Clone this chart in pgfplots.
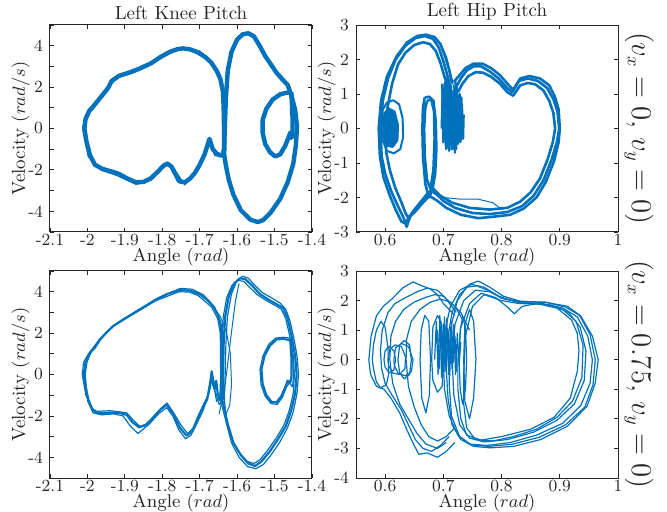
\documentclass[border=0pt]{standalone}
\usepackage{pgfplots}
\pgfplotsset{compat=1.18}
\definecolor{mblue}{RGB}{0,114,189}
\definecolor{axgray}{RGB}{38,38,38}
\pgfplotsset{
  every axis/.append style={
    scale only axis, width=131pt, height=103.5pt,
    tick align=inside,
    axis line style={draw=axgray, line width=0.5pt},
    every tick/.style={axgray, line width=0.4pt},
    major tick length=2.2pt, minor tick length=2.2pt,
    ticklabel style={font=\fontsize{8.5}{9}\selectfont, text=axgray},
    xticklabel style={anchor=base, yshift=-6.8pt, inner sep=1pt},
    label style={font=\fontsize{9.5}{10}\selectfont, text=axgray},
    title style={font=\fontsize{9.5}{10}\selectfont, text=axgray, yshift=-7pt},
    xlabel style={at={(axis description cs:0.5,0)}, anchor=base, yshift=-14.7pt, inner sep=1pt, font=\fontsize{9.2}{10}\selectfont},
    ylabel style={yshift=-7.5pt},
    xtick pos=both, ytick pos=both,
  },
  knee/.style={xmin=-2.1, xmax=-1.4, ymin=-5, ymax=5,
    xtick={-2.1,-2,-1.9,-1.8,-1.7,-1.6,-1.5,-1.4},
    xticklabels={-2.1,-2,-1.9,-1.8,-1.7,-1.6,-1.5,-1.4},
    ytick={-4,-2,0,2,4}, yticklabels={-4,-2,0,2,4},
    minor ytick={-5,-3,-1,1,3,5},
    xlabel={Angle $(rad)$}, ylabel={Velocity $(rad/s)$}},
  hip/.style={xmin=0.55, xmax=1,
    xtick={0.6,0.7,0.8,0.9,1}, xticklabels={0.6,0.7,0.8,0.9,1},
    xlabel={Angle $(rad)$}, ylabel={Velocity $(rad/s)$}},
  tr/.style={mblue, line join=round, no markers},
}
\begin{document}
\begin{tikzpicture}
\path[use as bounding box] (0,0) rectangle (333.5pt,-256pt);
% ---------------- Top left ----------------
\begin{axis}[knee, at={(25pt,-116pt)}, anchor=south west, title={Left Knee Pitch}]
\addplot[tr, line width=2.2pt] coordinates {
(-2.008,0)(-2.005,0.45)(-1.995,0.85)(-1.985,1.05)(-1.965,1.5)(-1.945,1.95)(-1.935,2.3)(-1.915,2.55)(-1.885,2.72)(-1.86,2.9)(-1.83,3.15)(-1.805,3.45)(-1.78,3.7)(-1.76,3.83)(-1.745,3.87)(-1.725,3.82)(-1.705,3.68)(-1.685,3.45)(-1.67,3.2)(-1.655,2.8)(-1.645,2.4)(-1.638,1.8)(-1.636,1.0)(-1.635,0.0)(-1.635,-1.0)(-1.638,-1.25)(-1.645,-1.3)(-1.655,-1.2)(-1.665,-1.0)(-1.674,-0.5)(-1.679,-0.8)(-1.687,-1.25)(-1.70,-1.75)(-1.713,-2.15)(-1.726,-2.42)(-1.74,-2.6)(-1.755,-2.55)(-1.765,-2.2)(-1.775,-1.85)(-1.786,-1.7)(-1.797,-1.8)(-1.81,-2.05)(-1.83,-2.4)(-1.85,-2.58)(-1.87,-2.6)(-1.895,-2.4)(-1.915,-2.2)(-1.935,-2.08)(-1.96,-1.95)(-1.98,-1.75)(-1.993,-1.3)(-2.003,-0.6)(-2.008,0)};
\addplot[tr, line width=0.6pt] coordinates {
(-2.013,0)(-2.008,0.5)(-1.998,0.9)(-1.97,1.45)(-1.95,1.9)(-1.92,2.45)(-1.88,2.68)(-1.83,3.1)(-1.78,3.65)(-1.745,3.93)(-1.70,3.74)(-1.665,3.2)(-1.643,2.3)(-1.631,1.0)(-1.63,-1.0)
(-1.64,-1.38)(-1.66,-1.3)(-1.674,-0.62)(-1.70,-1.85)(-1.74,-2.72)(-1.77,-1.9)(-1.786,-1.62)(-1.83,-2.5)(-1.87,-2.7)(-1.92,-2.28)(-1.965,-2.0)(-1.998,-1.35)(-2.013,0)};
\addplot[tr, line width=2.2pt] coordinates {
(-1.635,-1.2)(-1.633,0)(-1.630,1.5)(-1.625,2.8)(-1.615,3.7)(-1.60,4.3)(-1.585,4.55)(-1.57,4.6)(-1.555,4.45)(-1.54,4.0)(-1.525,3.5)(-1.51,3.1)(-1.495,2.7)(-1.478,2.35)(-1.465,2.1)(-1.455,1.6)(-1.445,0.9)(-1.44,0.1)(-1.443,-0.8)(-1.45,-1.7)(-1.465,-2.6)(-1.485,-3.4)(-1.51,-4.05)(-1.53,-4.42)(-1.545,-4.52)(-1.565,-4.4)(-1.59,-3.95)(-1.61,-3.2)(-1.622,-2.5)(-1.63,-1.8)(-1.635,-1.2)};
\addplot[tr, line width=2.2pt] coordinates {
(-1.455,1.75)(-1.47,1.72)(-1.485,1.65)(-1.505,1.4)(-1.522,0.95)(-1.532,0.4)(-1.532,-0.2)(-1.525,-0.75)(-1.512,-1.15)(-1.498,-1.35)(-1.485,-1.25)(-1.472,-0.85)(-1.462,-0.4)(-1.458,-0.2)(-1.455,-0.45)(-1.452,-0.3)(-1.452,0.5)(-1.455,1.75)};
\end{axis}
% ---------------- Top right ----------------
\begin{axis}[hip, at={(178pt,-116pt)}, anchor=south west, title={Left Hip Pitch},
  ymin=-3, ymax=3, ytick={-3,-2,-1,0,1,2,3}, yticklabels={-3,-2,-1,0,1,2,3}]
\addplot[tr, line width=1.3pt] coordinates {
(0.712,1.2)(0.706,1.6)(0.700,1.95)(0.692,2.35)(0.682,2.6)(0.668,2.68)(0.652,2.62)(0.635,2.4)(0.618,2.0)(0.605,1.45)(0.596,0.8)(0.592,0.0)(0.594,-0.8)(0.600,-1.3)(0.610,-1.8)(0.622,-2.25)(0.632,-2.6)(0.637,-2.85)(0.643,-2.55)(0.655,-2.3)(0.667,-2.05)(0.678,-1.8)(0.688,-1.9)(0.700,-2.1)(0.72,-2.3)(0.75,-2.45)(0.78,-2.48)(0.81,-2.42)(0.835,-2.25)(0.855,-1.95)(0.872,-1.5)(0.886,-0.9)(0.895,-0.4)(0.899,0.0)(0.896,0.5)(0.889,0.85)(0.878,1.18)(0.862,1.38)(0.845,1.45)(0.83,1.38)(0.818,1.05)(0.808,1.2)(0.795,1.45)(0.78,1.65)(0.765,1.8)(0.752,1.8)(0.74,1.68)(0.73,1.45)(0.722,1.2)};
\addplot[tr, line width=1.3pt] coordinates {
(0.71,1.1)(0.702,1.5)(0.695,1.9)(0.687,2.25)(0.677,2.45)(0.665,2.5)(0.65,2.42)(0.635,2.2)(0.622,1.85)(0.612,1.3)(0.604,0.6)(0.6,0.0)(0.602,-0.7)(0.608,-1.2)(0.617,-1.7)(0.627,-2.1)(0.635,-2.45)(0.64,-2.6)(0.648,-2.4)(0.66,-2.15)(0.672,-1.9)(0.683,-1.75)(0.695,-1.95)(0.715,-2.15)(0.745,-2.3)(0.78,-2.35)(0.81,-2.3)(0.832,-2.12)(0.85,-1.85)(0.866,-1.45)(0.879,-0.9)(0.888,-0.4)(0.892,0.0)(0.889,0.45)(0.882,0.8)(0.872,1.1)(0.858,1.28)(0.845,1.32)(0.832,1.25)(0.82,0.95)(0.81,1.05)(0.797,1.3)(0.782,1.5)(0.768,1.62)(0.755,1.63)(0.743,1.52)(0.733,1.3)(0.725,1.05)};
\addplot[tr, line width=1.3pt] coordinates {
(0.715,1.3)(0.71,1.7)(0.703,2.1)(0.695,2.45)(0.685,2.65)(0.67,2.72)(0.655,2.68)(0.638,2.5)(0.62,2.1)(0.603,1.5)(0.593,0.8)(0.589,0.0)(0.591,-0.8)(0.597,-1.4)(0.607,-1.9)(0.618,-2.35)(0.628,-2.7)(0.635,-2.75)(0.64,-2.6)(0.652,-2.4)(0.665,-2.15)(0.676,-1.95)(0.69,-2.1)(0.705,-2.3)(0.73,-2.5)(0.76,-2.6)(0.79,-2.55)(0.815,-2.5)(0.838,-2.32)(0.86,-2.0)(0.876,-1.55)(0.89,-0.95)(0.898,-0.4)(0.9,0.0)(0.898,0.55)(0.892,0.9)(0.882,1.25)(0.866,1.45)(0.848,1.52)(0.832,1.45)(0.82,1.12)(0.81,1.3)(0.797,1.55)(0.782,1.75)(0.767,1.88)(0.752,1.88)(0.738,1.75)(0.728,1.55)(0.718,1.35)};
\addplot[tr, line width=0.5pt] coordinates {
(0.68,-1.75)(0.70,-2.0)(0.73,-2.05)(0.76,-2.05)(0.785,-2.15)(0.80,-2.35)};
\addplot[tr, line width=0.5pt] coordinates {
(0.72,1.0)(0.714,1.5)(0.706,2.05)(0.697,2.4)(0.686,2.57)};
% middle narrow loop
\addplot[tr, line width=1.3pt] coordinates {
(0.668,0.9)(0.676,0.92)(0.683,0.8)(0.687,0.2)(0.688,-0.6)(0.686,-1.3)(0.681,-1.8)(0.675,-2.0)(0.669,-1.6)(0.665,-0.8)(0.664,0)(0.665,0.6)(0.668,0.9)};
\addplot[tr, line width=1.3pt] coordinates {
(0.672,0.8)(0.679,0.85)(0.684,0.5)(0.685,-0.3)(0.683,-1.2)(0.678,-1.75)(0.672,-1.5)(0.668,-0.8)(0.667,0.0)(0.669,0.6)(0.672,0.8)};
% small left loop
\addplot[tr, line width=1pt] coordinates {
(0.594,0)(0.596,0.55)(0.603,0.75)(0.614,0.82)(0.624,0.7)(0.630,0.3)(0.631,-0.25)(0.626,-0.6)(0.615,-0.72)(0.603,-0.65)(0.596,-0.35)(0.594,0)};
\addplot[tr, line width=0.5pt, fill=mblue] coordinates {
(0.596,0)(0.598,0.45)(0.606,0.6)(0.617,0.5)(0.623,0.1)(0.622,-0.35)(0.613,-0.55)(0.601,-0.5)(0.596,-0.2)(0.596,0)};
% oscillation region
\addplot[tr, line width=1.1pt] coordinates {
(0.698,1.3)(0.700,-0.4)(0.703,1.35)(0.705,-0.6)(0.708,1.2)(0.710,-0.65)(0.713,1.25)(0.715,-0.5)(0.718,1.1)(0.720,-0.7)(0.723,1.3)(0.725,-0.45)(0.728,1.0)(0.730,-0.35)(0.732,0.7)(0.734,-0.3)(0.735,0.4)};
\addplot[tr, line width=1.1pt] coordinates {
(0.699,0.5)(0.701,1.0)(0.704,-0.5)(0.706,1.45)(0.709,-0.3)(0.711,1.0)(0.714,-0.6)(0.716,0.9)(0.719,-0.55)(0.721,1.35)(0.724,-0.2)(0.726,0.8)(0.729,-0.4)(0.731,0.9)(0.733,-0.2)};
\addplot[tr, line width=1.1pt] coordinates {
(0.697,0.0)(0.699,1.2)(0.702,-0.2)(0.704,1.1)(0.707,-0.55)(0.709,1.35)(0.712,-0.4)(0.714,1.1)(0.717,-0.6)(0.719,1.2)(0.722,-0.6)(0.724,1.0)(0.727,-0.3)(0.729,0.6)};
\end{axis}
% ---------------- Bottom left ----------------
\begin{axis}[knee, at={(25pt,-239pt)}, anchor=south west]
\addplot[tr, line width=1.1pt] coordinates {
(-2.010,0)(-2.005,0.6)(-1.993,1.05)(-1.98,1.3)(-1.966,1.7)(-1.948,2.05)(-1.931,2.34)(-1.905,2.65)(-1.877,2.95)(-1.845,3.3)(-1.815,3.63)(-1.785,3.9)(-1.753,4.08)(-1.725,4.05)(-1.70,3.87)(-1.68,3.6)(-1.664,3.3)(-1.652,2.9)(-1.645,2.5)(-1.641,1.8)(-1.640,0.5)(-1.641,-1.0)(-1.645,-1.25)(-1.652,-0.9)(-1.656,-0.3)(-1.659,-0.7)(-1.664,-0.3)(-1.668,0.15)(-1.672,-0.4)(-1.68,-1.2)(-1.692,-1.6)(-1.705,-2.1)(-1.72,-2.75)(-1.735,-2.95)(-1.752,-2.6)(-1.77,-1.95)(-1.788,-1.45)(-1.805,-1.7)(-1.825,-2.1)(-1.845,-2.45)(-1.862,-2.55)(-1.88,-2.3)(-1.895,-1.95)(-1.915,-1.85)(-1.945,-1.85)(-1.97,-1.88)(-1.985,-1.75)(-1.997,-1.25)(-2.005,-0.6)(-2.010,0)};
\addplot[tr, line width=0.6pt] coordinates {
(-2.006,0)(-2.001,0.6)(-1.99,1.1)(-1.962,1.75)(-1.928,2.4)(-1.874,3.02)(-1.812,3.7)(-1.752,4.16)(-1.72,4.12)(-1.69,3.85)(-1.66,3.25)(-1.642,2.4)(-1.636,1.0)(-1.637,-1.2)(-1.648,-1.45)(-1.655,-1.0)(-1.662,-0.7)(-1.67,-0.2)(-1.676,-0.9)(-1.69,-1.7)(-1.707,-2.35)(-1.724,-2.95)(-1.738,-3.1)(-1.755,-2.7)(-1.772,-2.0)(-1.788,-1.6)(-1.81,-1.9)(-1.835,-2.4)(-1.865,-2.85)(-1.885,-2.5)(-1.905,-2.0)(-1.93,-1.9)(-1.962,-1.95)(-1.985,-1.85)(-1.999,-1.3)(-2.006,0)};
\addplot[tr, line width=0.6pt] coordinates {
(-2.014,0)(-2.01,0.6)(-1.997,1.0)(-1.97,1.65)(-1.935,2.28)(-1.88,2.9)(-1.818,3.56)(-1.755,4.0)(-1.728,3.98)(-1.705,3.82)(-1.685,3.52)(-1.668,3.25)(-1.652,2.7)(-1.645,2.0)(-1.644,0.0)(-1.646,-1.1)(-1.655,-1.3)(-1.662,-0.5)(-1.666,-0.1)(-1.675,-0.9)(-1.69,-1.45)(-1.703,-1.95)(-1.718,-2.6)(-1.732,-2.85)(-1.748,-2.5)(-1.768,-1.9)(-1.787,-1.38)(-1.803,-1.62)(-1.822,-2.0)(-1.842,-2.4)(-1.86,-2.5)(-1.878,-2.2)(-1.895,-1.85)(-1.94,-1.75)(-1.975,-1.78)(-1.99,-1.6)(-2.004,-1.0)(-2.014,0)};
\addplot[tr, line width=1.1pt] coordinates {
(-1.640,-1.2)(-1.638,0)(-1.636,1.5)(-1.632,2.8)(-1.622,3.8)(-1.608,4.4)(-1.592,4.65)(-1.578,4.6)(-1.56,4.3)(-1.54,3.9)(-1.515,3.6)(-1.49,3.35)(-1.477,3.2)(-1.465,2.7)(-1.455,1.9)(-1.445,0.9)(-1.441,0.0)(-1.445,-0.9)(-1.455,-1.7)(-1.47,-2.5)(-1.49,-3.1)(-1.512,-3.7)(-1.535,-4.2)(-1.552,-4.42)(-1.57,-4.3)(-1.59,-3.9)(-1.61,-3.3)(-1.625,-2.4)(-1.635,-1.6)(-1.640,-1.2)};
\addplot[tr, line width=0.6pt] coordinates {
(-1.634,-1.2)(-1.632,0)(-1.63,1.5)(-1.626,2.8)(-1.615,3.9)(-1.6,4.55)(-1.585,4.75)(-1.57,4.65)(-1.552,4.3)(-1.532,3.95)(-1.508,3.7)(-1.485,3.45)(-1.47,3.15)(-1.459,2.6)(-1.449,1.8)(-1.44,0.9)(-1.436,0.0)(-1.44,-0.9)(-1.45,-1.8)(-1.466,-2.6)(-1.487,-3.3)(-1.51,-3.9)(-1.53,-4.35)(-1.55,-4.55)(-1.572,-4.45)(-1.595,-4.0)(-1.615,-3.3)(-1.628,-2.4)(-1.634,-1.2)};
\addplot[tr, line width=0.6pt] coordinates {
(-1.645,-1.2)(-1.643,0)(-1.641,1.5)(-1.637,2.8)(-1.628,3.7)(-1.614,4.3)(-1.598,4.55)(-1.583,4.5)(-1.566,4.2)(-1.546,3.85)(-1.52,3.55)(-1.495,3.3)(-1.482,3.15)(-1.47,2.7)(-1.46,1.9)(-1.45,0.9)(-1.447,0.0)(-1.45,-0.9)(-1.46,-1.7)(-1.475,-2.45)(-1.495,-3.05)(-1.516,-3.6)(-1.538,-4.1)(-1.555,-4.3)(-1.573,-4.2)(-1.593,-3.8)(-1.612,-3.2)(-1.628,-2.4)(-1.645,-1.2)};
\addplot[tr, line width=0.5pt] coordinates {
(-1.66,3.2)(-1.645,2.8)(-1.628,2.0)(-1.618,1.0)(-1.615,-0.5)(-1.62,-1.5)(-1.632,-2.0)};
\addplot[tr, line width=0.5pt] coordinates {
(-1.648,-1.9)(-1.632,-0.5)(-1.622,1.0)(-1.612,2.5)(-1.604,3.6)(-1.595,4.4)};
\addplot[tr, line width=1.1pt] coordinates {
(-1.458,1.65)(-1.475,1.72)(-1.494,1.70)(-1.512,1.4)(-1.527,0.9)(-1.535,0.25)(-1.532,-0.45)(-1.522,-1.0)(-1.508,-1.32)(-1.495,-1.35)(-1.482,-1.05)(-1.47,-0.55)(-1.465,-0.3)(-1.458,-0.4)(-1.455,-0.1)(-1.455,0.8)(-1.458,1.65)};
\addplot[tr, line width=0.6pt] coordinates {
(-1.456,1.75)(-1.476,1.8)(-1.497,1.76)(-1.516,1.45)(-1.531,0.9)(-1.539,0.25)(-1.536,-0.5)(-1.525,-1.05)(-1.51,-1.4)(-1.493,-1.45)(-1.479,-1.1)(-1.468,-0.6)(-1.46,-0.4)(-1.452,-0.6)(-1.449,0.0)(-1.452,0.9)(-1.456,1.75)};
\end{axis}
% ---------------- Bottom right ----------------
\begin{axis}[hip, at={(178pt,-239pt)}, anchor=south west,
  ymin=-4, ymax=3, ytick={-4,-3,-2,-1,0,1,2,3}, yticklabels={-4,-3,-2,-1,0,1,2,3}]
\addplot[tr, line width=0.6pt] coordinates {
(0.705,-0.3)(0.708,0.8)(0.715,1.6)(0.728,2.2)(0.745,2.55)(0.760,2.66)(0.780,2.45)(0.803,2.15)(0.832,1.98)(0.878,1.93)(0.913,1.81)(0.936,1.48)(0.956,0.80)(0.966,0.0)(0.961,-0.78)(0.947,-1.57)(0.913,-2.25)(0.867,-2.70)(0.821,-2.93)(0.780,-2.98)(0.752,-2.93)(0.730,-2.70)(0.715,-2.2)(0.708,-1.3)(0.705,-0.3)};
\addplot[tr, line width=0.6pt] coordinates {
(0.700,0)(0.703,1.0)(0.712,1.8)(0.728,2.35)(0.748,2.55)(0.770,2.45)(0.795,2.15)(0.825,1.95)(0.870,1.90)(0.905,1.75)(0.930,1.45)(0.948,0.8)(0.956,0.0)(0.952,-0.8)(0.936,-1.55)(0.905,-2.15)(0.86,-2.55)(0.815,-2.80)(0.775,-2.90)(0.745,-2.85)(0.725,-2.55)(0.710,-1.9)(0.702,-1.0)(0.700,0)};
\addplot[tr, line width=0.6pt] coordinates {
(0.715,0)(0.72,1.2)(0.735,2.0)(0.755,2.35)(0.780,2.30)(0.805,2.05)(0.84,1.92)(0.885,1.85)(0.915,1.6)(0.935,1.1)(0.945,0.3)(0.942,-0.7)(0.925,-1.5)(0.895,-2.05)(0.855,-2.45)(0.81,-2.70)(0.77,-2.78)(0.745,-2.65)(0.728,-2.2)(0.718,-1.2)(0.715,0)};
\addplot[tr, line width=0.6pt] coordinates {
(0.725,0)(0.73,1.1)(0.745,1.9)(0.765,2.25)(0.790,2.1)(0.812,1.75)(0.822,1.55)(0.835,1.8)(0.86,1.9)(0.895,1.75)(0.920,1.35)(0.930,0.9)(0.933,0.3)(0.93,-0.4)(0.918,-1.3)(0.89,-1.95)(0.85,-2.35)(0.80,-2.6)(0.765,-2.72)(0.74,-2.55)(0.73,-2.0)(0.725,-1.0)(0.725,0)};
\addplot[tr, line width=0.6pt] coordinates {
(0.735,-0.5)(0.738,0.8)(0.75,1.8)(0.77,2.2)(0.80,2.0)(0.83,1.9)(0.87,1.88)(0.905,1.7)(0.928,1.3)(0.94,0.5)(0.938,-0.6)(0.922,-1.4)(0.895,-1.95)(0.86,-2.35)(0.82,-2.6)(0.785,-2.75)(0.755,-2.7)(0.74,-2.3)(0.735,-1.5)(0.735,-0.5)};
\addplot[tr, line width=0.6pt] coordinates {
(0.71,0.2)(0.714,1.2)(0.724,2.0)(0.74,2.45)(0.757,2.5)(0.776,2.35)(0.80,2.08)(0.83,1.97)(0.875,1.95)(0.91,1.78)(0.934,1.5)(0.952,0.85)(0.961,0.0)(0.957,-0.85)(0.943,-1.6)(0.91,-2.2)(0.865,-2.62)(0.818,-2.86)(0.778,-2.93)(0.748,-2.88)(0.728,-2.6)(0.714,-1.9)(0.71,-0.8)(0.71,0.2)};
\addplot[tr, line width=0.6pt] coordinates {
(0.72,1.5)(0.70,1.9)(0.69,2.2)(0.677,2.4)(0.663,2.5)(0.648,2.63)(0.631,2.44)(0.611,2.04)(0.597,1.81)(0.585,1.48)(0.576,0.8)(0.572,0.0)(0.575,-0.5)(0.585,-0.9)(0.598,-1.0)(0.61,-1.3)(0.625,-1.8)(0.638,-2.4)(0.65,-2.9)(0.658,-3.2)(0.672,-3.15)(0.69,-3.3)(0.705,-3.1)(0.72,-2.8)};
\addplot[tr, line width=0.6pt] coordinates {
(0.722,1.6)(0.705,2.05)(0.69,2.35)(0.672,2.42)(0.655,2.3)(0.635,2.1)(0.617,1.9)(0.605,1.6)(0.595,1.0)(0.592,0.3)(0.594,-0.3)(0.60,-0.8)(0.612,-1.2)(0.628,-1.7)(0.64,-2.2)(0.652,-2.7)(0.665,-3.0)(0.68,-3.1)(0.695,-2.9)(0.71,-2.6)};
\addplot[tr, line width=0.6pt] coordinates {
(0.735,1.3)(0.72,1.8)(0.70,2.15)(0.685,2.2)(0.668,2.1)(0.65,1.95)(0.632,1.7)(0.618,1.3)(0.61,0.8)(0.608,0.0)(0.613,-0.8)(0.625,-1.5)(0.64,-2.0)(0.655,-2.5)(0.67,-2.85)(0.69,-3.0)(0.705,-2.8)};
\addplot[tr, line width=0.6pt] coordinates {
(0.745,1.0)(0.73,1.6)(0.712,1.95)(0.695,2.05)(0.678,1.95)(0.66,1.7)(0.645,1.3)(0.637,0.7)(0.636,0.0)(0.64,-0.9)(0.65,-1.6)(0.662,-2.2)(0.675,-2.6)(0.69,-2.75)(0.705,-2.6)(0.72,-2.3)};
\addplot[tr, line width=0.6pt] coordinates {
(0.58,-0.3)(0.585,-0.75)(0.592,-0.95)(0.602,-0.85)(0.606,-0.5)(0.605,0.4)(0.6,1.1)(0.593,1.3)(0.585,1.0)(0.58,0.5)(0.578,0)(0.58,-0.3)};
\addplot[tr, line width=0.6pt] coordinates {
(0.605,0)(0.608,0.35)(0.617,0.5)(0.628,0.45)(0.635,0.1)(0.634,-0.3)(0.625,-0.5)(0.613,-0.45)(0.606,-0.2)(0.605,0)};
\addplot[tr, line width=0.6pt] coordinates {
(0.615,0)(0.618,0.4)(0.628,0.55)(0.64,0.45)(0.648,0.0)(0.645,-0.4)(0.635,-0.55)(0.622,-0.45)(0.616,-0.2)(0.615,0)};
\addplot[tr, line width=0.6pt] coordinates {
(0.598,0)(0.6,0.3)(0.607,0.45)(0.615,0.3)(0.618,0)(0.615,-0.35)(0.607,-0.45)(0.6,-0.25)(0.598,0)};
\addplot[tr, line width=0.6pt] coordinates {
(0.622,0)(0.625,0.5)(0.633,0.65)(0.642,0.5)(0.645,0)(0.642,-0.5)(0.633,-0.65)(0.625,-0.45)(0.622,0)};
\addplot[tr, line width=0.6pt] coordinates {
(0.66,0)(0.662,1.0)(0.668,1.5)(0.675,1.3)(0.678,0)(0.676,-1.2)(0.67,-1.8)(0.663,-1.3)(0.66,0)};
\addplot[tr, line width=0.6pt] coordinates {
(0.68,0)(0.682,1.1)(0.69,1.5)(0.697,1.2)(0.70,0)(0.698,-0.9)(0.69,-1.1)(0.682,-0.7)(0.68,0)};
\addplot[tr, line width=0.6pt] coordinates {
(0.735,0)(0.737,1.2)(0.745,1.7)(0.752,1.3)(0.756,0)(0.752,-1.3)(0.745,-2.0)(0.737,-1.4)(0.735,0)};
\addplot[tr, line width=0.6pt] coordinates {
(0.727,0)(0.729,1.0)(0.733,1.45)(0.738,1.1)(0.74,0)(0.738,-1.0)(0.733,-1.5)(0.729,-1.0)(0.727,0)};
\addplot[tr, line width=0.6pt] coordinates {
(0.685,0)(0.688,1.3)(0.691,-0.5)(0.694,1.5)(0.697,-0.6)(0.700,1.2)(0.703,-0.4)(0.706,1.4)(0.709,-0.5)(0.712,1.1)(0.715,-0.3)(0.718,1.2)(0.721,-0.5)(0.724,0.9)(0.727,-0.2)(0.73,0.6)};
\addplot[tr, line width=0.6pt] coordinates {
(0.687,0.5)(0.69,1.0)(0.693,-0.3)(0.696,1.3)(0.699,-0.55)(0.702,1.45)(0.705,-0.2)(0.708,1.0)(0.711,-0.55)(0.714,1.3)(0.717,-0.1)(0.72,0.8)(0.723,-0.4)};
\end{axis}
\node[rotate=-90, font=\fontsize{13.5}{14}\selectfont, text=axgray] at (319.5pt,-64.25pt) {$(v_x=0,\,v_y=0)$};
\node[rotate=-90, font=\fontsize{13.5}{14}\selectfont, text=axgray] at (319.5pt,-187.25pt) {$(v_x=0.75,\,v_y=0)$};
\end{tikzpicture}
\end{document}
